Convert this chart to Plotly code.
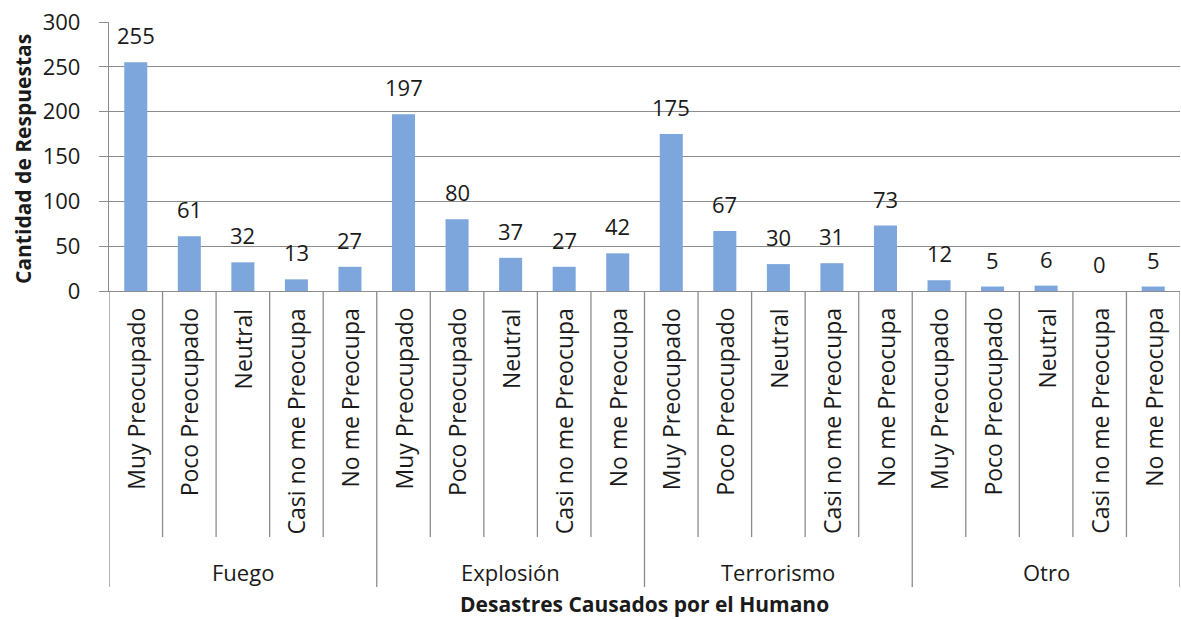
import plotly.graph_objects as go

groups = ["Fuego", "Explosión", "Terrorismo", "Otro"]
levels = ["Muy Preocupado", "Poco Preocupado", "Neutral", "Casi no me Preocupa", "No me Preocupa"]
fuego = [255, 61, 32, 13, 27]
explosion = [197, 80, 37, 27, 42]
terrorismo = [175, 67, 30, 31, 73]
otro = [12, 5, 6, 0, 5]
y_ticks = [0, 50, 100, 150, 200, 250, 300]
y_title = "Cantidad de Respuestas"
x_title = "Desastres Causados por el Humano"

series = [fuego, explosion, terrorismo, otro]
values = [v for s in series for v in s]
n_lev = len(levels)
x_idx = list(range(len(values)))
labels = [lev for _ in groups for lev in levels]

W, H = 1181, 620
L, R, T, B = 109, 1, 22, 329
plot_h = H - T - B
FONT = "Open Sans"
GRID = "#8c8c8c"
BAR = "#7DA7DC"
TXT = "#1a1a1a"


def py(px):
    # pixel y (from top) -> paper coordinate
    return (H - B - px) / plot_h


fig = go.Figure()
fig.add_trace(go.Bar(x=x_idx, y=values, marker=dict(color=BAR, line=dict(width=0)),
                     width=0.43, hoverinfo="y"))

ann = []
# data labels
for i, v in zip(x_idx, values):
    ann.append(dict(x=i, y=v, xref="x", yref="y", text=str(v), showarrow=False,
                    yanchor="bottom", yshift=10, font=dict(family=FONT, size=22, color=TXT)))
# rotated category labels
for i, lab in zip(x_idx, labels):
    ann.append(dict(x=i, y=0, xref="x", yref="paper", text=lab, showarrow=False,
                    textangle=-90, xanchor="center", yanchor="top", yshift=-15,
                    font=dict(family=FONT, size=23, color=TXT)))
# group labels
for g, name in enumerate(groups):
    ann.append(dict(x=g * n_lev + (n_lev - 1) / 2, y=py(572), xref="x", yref="paper", text=name,
                    showarrow=False, xanchor="center", yanchor="middle",
                    font=dict(family=FONT, size=22, color=TXT)))
# axis titles
ann.append(dict(x=0.5, y=py(604), xref="paper", yref="paper", text="<b>" + x_title + "</b>",
                showarrow=False, xanchor="center", yanchor="middle",
                font=dict(family=FONT, size=21, color=TXT)))
ann.append(dict(x=0, y=py(159), xref="paper", yref="paper", text="<b>" + y_title + "</b>",
                showarrow=False, textangle=-90, xanchor="center", yanchor="middle", xshift=-86,
                font=dict(family=FONT, size=21, color=TXT)))

shapes = []
# category dividers
for k in range(len(values) + 1):
    bottom = py(587) if k % n_lev == 0 else py(537)
    shapes.append(dict(type="line", xref="x", yref="paper", x0=k - 0.5, x1=k - 0.5,
                       y0=0, y1=bottom, line=dict(color=GRID, width=1.3)))

fig.update_layout(
    width=W, height=H, margin=dict(l=L, r=R, t=T, b=B, autoexpand=False),
    paper_bgcolor="white", plot_bgcolor="white", showlegend=False,
    annotations=ann, shapes=shapes, bargap=0.57,
    xaxis=dict(range=[-0.5, len(values) - 0.5], showticklabels=False, showgrid=False,
               zeroline=False, showline=True, linecolor=GRID, linewidth=1.3, fixedrange=True,
               automargin=False),
    yaxis=dict(range=[0, 300], tickvals=y_ticks, showgrid=True, gridcolor=GRID, gridwidth=1.3,
               zeroline=False, showline=True, linecolor=GRID, linewidth=1.3, automargin=False,
               ticks="outside", ticklen=9, tickcolor=GRID, ticklabelstandoff=14,
               tickfont=dict(family=FONT, size=22, color=TXT)),
)
fig.write_html("out.html", config={"displayModeBar": False},
               post_script="document.body.style.margin='0';document.body.style.overflow='hidden';")
